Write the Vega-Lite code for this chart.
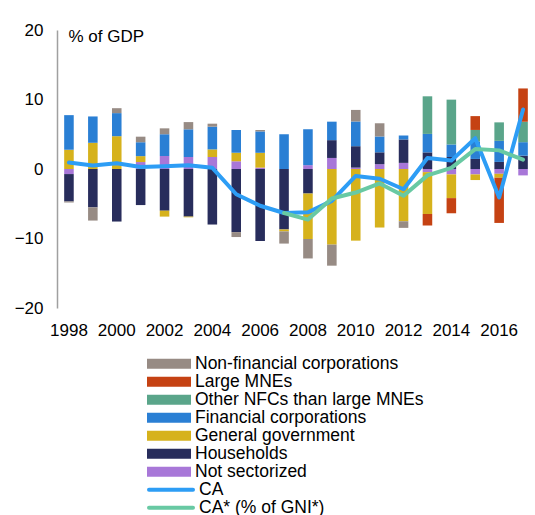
{
  "$schema": "https://vega.github.io/schema/vega-lite/v6.json",
  "width": 478,
  "height": 278,
  "autosize": {"type": "none"},
  "padding": {"left": 57, "top": 30, "right": 0, "bottom": 207},
  "config": {
    "font": "Liberation Sans",
    "view": {"stroke": null},
    "axis": {"labelColor": "#000000", "titleColor": "#000000", "labelFont": "Liberation Sans", "titleFont": "Liberation Sans"},
    "legend": {"labelFont": "Liberation Sans", "labelColor": "#000000"}
  },
  "datasets": {
    "bars": [
      {"year": 1998, "sector": "Not sectorized", "value": -0.73},
      {"year": 1998, "sector": "Households", "value": -3.94},
      {"year": 1998, "sector": "General government", "value": 2.77},
      {"year": 1998, "sector": "Financial corporations", "value": 4.98},
      {"year": 1998, "sector": "Non-financial corporations", "value": -0.15},
      {"year": 1999, "sector": "General government", "value": 3.77},
      {"year": 1999, "sector": "Financial corporations", "value": 3.79},
      {"year": 1999, "sector": "Households", "value": -5.52},
      {"year": 1999, "sector": "Non-financial corporations", "value": -1.9},
      {"year": 2000, "sector": "General government", "value": 4.72},
      {"year": 2000, "sector": "Financial corporations", "value": 3.32},
      {"year": 2000, "sector": "Non-financial corporations", "value": 0.71},
      {"year": 2000, "sector": "Households", "value": -7.56},
      {"year": 2001, "sector": "Not sectorized", "value": 1.0},
      {"year": 2001, "sector": "General government", "value": 0.85},
      {"year": 2001, "sector": "Financial corporations", "value": 2.0},
      {"year": 2001, "sector": "Non-financial corporations", "value": 0.8},
      {"year": 2001, "sector": "Households", "value": -5.19},
      {"year": 2002, "sector": "Not sectorized", "value": 1.87},
      {"year": 2002, "sector": "Financial corporations", "value": 3.13},
      {"year": 2002, "sector": "Non-financial corporations", "value": 0.85},
      {"year": 2002, "sector": "Households", "value": -6.0},
      {"year": 2002, "sector": "General government", "value": -0.85},
      {"year": 2003, "sector": "Not sectorized", "value": 1.73},
      {"year": 2003, "sector": "Financial corporations", "value": 3.98},
      {"year": 2003, "sector": "Non-financial corporations", "value": 1.04},
      {"year": 2003, "sector": "Households", "value": -6.85},
      {"year": 2003, "sector": "General government", "value": -0.1},
      {"year": 2004, "sector": "Not sectorized", "value": 1.73},
      {"year": 2004, "sector": "General government", "value": 1.09},
      {"year": 2004, "sector": "Financial corporations", "value": 3.27},
      {"year": 2004, "sector": "Non-financial corporations", "value": 0.43},
      {"year": 2004, "sector": "Households", "value": -7.99},
      {"year": 2005, "sector": "Not sectorized", "value": 1.11},
      {"year": 2005, "sector": "General government", "value": 1.23},
      {"year": 2005, "sector": "Financial corporations", "value": 3.27},
      {"year": 2005, "sector": "Households", "value": -9.08},
      {"year": 2005, "sector": "Non-financial corporations", "value": -0.71},
      {"year": 2006, "sector": "Not sectorized", "value": 0.2},
      {"year": 2006, "sector": "General government", "value": 2.13},
      {"year": 2006, "sector": "Financial corporations", "value": 3.08},
      {"year": 2006, "sector": "Non-financial corporations", "value": 0.2},
      {"year": 2006, "sector": "Households", "value": -10.36},
      {"year": 2007, "sector": "Financial corporations", "value": 5.0},
      {"year": 2007, "sector": "Households", "value": -8.7},
      {"year": 2007, "sector": "General government", "value": -0.28},
      {"year": 2007, "sector": "Non-financial corporations", "value": -1.75},
      {"year": 2008, "sector": "Not sectorized", "value": 0.55},
      {"year": 2008, "sector": "Financial corporations", "value": 5.17},
      {"year": 2008, "sector": "Households", "value": -3.53},
      {"year": 2008, "sector": "General government", "value": -6.54},
      {"year": 2008, "sector": "Non-financial corporations", "value": -2.8},
      {"year": 2009, "sector": "Not sectorized", "value": 1.59},
      {"year": 2009, "sector": "Households", "value": 2.56},
      {"year": 2009, "sector": "Financial corporations", "value": 2.66},
      {"year": 2009, "sector": "General government", "value": -10.88},
      {"year": 2009, "sector": "Non-financial corporations", "value": -3.03},
      {"year": 2010, "sector": "Not sectorized", "value": 0.2},
      {"year": 2010, "sector": "Households", "value": 3.08},
      {"year": 2010, "sector": "Financial corporations", "value": 3.56},
      {"year": 2010, "sector": "Non-financial corporations", "value": 1.66},
      {"year": 2010, "sector": "General government", "value": -10.31},
      {"year": 2011, "sector": "Not sectorized", "value": 0.69},
      {"year": 2011, "sector": "Households", "value": 1.71},
      {"year": 2011, "sector": "Financial corporations", "value": 2.28},
      {"year": 2011, "sector": "Non-financial corporations", "value": 1.9},
      {"year": 2011, "sector": "General government", "value": -8.42},
      {"year": 2012, "sector": "Not sectorized", "value": 0.88},
      {"year": 2012, "sector": "Households", "value": 3.37},
      {"year": 2012, "sector": "Financial corporations", "value": 0.57},
      {"year": 2012, "sector": "General government", "value": -7.52},
      {"year": 2012, "sector": "Non-financial corporations", "value": -0.95},
      {"year": 2013, "sector": "Households", "value": 2.39},
      {"year": 2013, "sector": "Financial corporations", "value": 2.66},
      {"year": 2013, "sector": "Other NFCs than large MNEs", "value": 5.41},
      {"year": 2013, "sector": "Not sectorized", "value": -0.45},
      {"year": 2013, "sector": "General government", "value": -6.02},
      {"year": 2013, "sector": "Large MNEs", "value": -1.66},
      {"year": 2014, "sector": "Households", "value": 1.73},
      {"year": 2014, "sector": "Financial corporations", "value": 1.8},
      {"year": 2014, "sector": "Other NFCs than large MNEs", "value": 6.45},
      {"year": 2014, "sector": "Not sectorized", "value": -0.78},
      {"year": 2014, "sector": "General government", "value": -3.41},
      {"year": 2014, "sector": "Large MNEs", "value": -2.18},
      {"year": 2015, "sector": "Households", "value": 1.45},
      {"year": 2015, "sector": "Financial corporations", "value": 2.51},
      {"year": 2015, "sector": "Other NFCs than large MNEs", "value": 1.66},
      {"year": 2015, "sector": "Large MNEs", "value": 1.99},
      {"year": 2015, "sector": "Not sectorized", "value": -0.78},
      {"year": 2015, "sector": "General government", "value": -0.81},
      {"year": 2016, "sector": "Households", "value": 1.02},
      {"year": 2016, "sector": "Financial corporations", "value": 3.03},
      {"year": 2016, "sector": "Other NFCs than large MNEs", "value": 2.66},
      {"year": 2016, "sector": "Not sectorized", "value": -0.69},
      {"year": 2016, "sector": "General government", "value": -0.57},
      {"year": 2016, "sector": "Large MNEs", "value": -6.5},
      {"year": 2017, "sector": "Households", "value": 1.92},
      {"year": 2017, "sector": "Financial corporations", "value": 1.94},
      {"year": 2017, "sector": "Other NFCs than large MNEs", "value": 2.94},
      {"year": 2017, "sector": "Large MNEs", "value": 4.79},
      {"year": 2017, "sector": "Not sectorized", "value": -0.92}
    ],
    "lines": [
      {"year": 1998, "series": "CA", "value": 0.92},
      {"year": 1999, "series": "CA", "value": 0.5},
      {"year": 2000, "series": "CA", "value": 0.83},
      {"year": 2001, "series": "CA", "value": 0.3},
      {"year": 2002, "series": "CA", "value": 0.4},
      {"year": 2003, "series": "CA", "value": 0.55},
      {"year": 2004, "series": "CA", "value": 0.17},
      {"year": 2005, "series": "CA", "value": -3.63},
      {"year": 2006, "series": "CA", "value": -5.29},
      {"year": 2007, "series": "CA", "value": -6.33},
      {"year": 2008, "series": "CA", "value": -6.24},
      {"year": 2009, "series": "CA", "value": -4.58},
      {"year": 2010, "series": "CA", "value": -1.0},
      {"year": 2011, "series": "CA", "value": -1.4},
      {"year": 2012, "series": "CA", "value": -2.92},
      {"year": 2013, "series": "CA", "value": 1.59},
      {"year": 2014, "series": "CA", "value": 1.21},
      {"year": 2015, "series": "CA", "value": 4.43},
      {"year": 2016, "series": "CA", "value": -4.1},
      {"year": 2017, "series": "CA", "value": 8.56},
      {"year": 2007, "series": "CA* (% of GNI*)", "value": -6.33},
      {"year": 2008, "series": "CA* (% of GNI*)", "value": -7.28},
      {"year": 2009, "series": "CA* (% of GNI*)", "value": -4.24},
      {"year": 2010, "series": "CA* (% of GNI*)", "value": -3.39},
      {"year": 2011, "series": "CA* (% of GNI*)", "value": -2.08},
      {"year": 2012, "series": "CA* (% of GNI*)", "value": -3.86},
      {"year": 2013, "series": "CA* (% of GNI*)", "value": -0.92},
      {"year": 2014, "series": "CA* (% of GNI*)", "value": 0.17},
      {"year": 2015, "series": "CA* (% of GNI*)", "value": 2.87},
      {"year": 2016, "series": "CA* (% of GNI*)", "value": 2.68},
      {"year": 2017, "series": "CA* (% of GNI*)", "value": 1.35}
    ]
  },
  "encoding": {
    "x": {
      "field": "year",
      "type": "ordinal",
      "scale": {"type": "band", "paddingInner": 0.6, "paddingOuter": 0.3},
      "axis": {
        "title": null,
        "domain": false,
        "ticks": false,
        "labelAngle": 0,
        "labelFontSize": 17,
        "labelPadding": 14,
        "labelExpr": "toNumber(datum.value) % 2 == 0 ? datum.label : ''"
      }
    }
  },
  "layer": [
    {
      "data": {"name": "bars"},
      "transform": [
        {"calculate": "indexof(['Not sectorized','Households','General government','Financial corporations','Other NFCs than large MNEs','Large MNEs','Non-financial corporations'], datum.sector)", "as": "stackorder"}
      ],
      "mark": {"type": "bar"},
      "encoding": {
        "y": {
          "field": "value",
          "type": "quantitative",
          "stack": "zero",
          "scale": {"domain": [-20, 20], "nice": false},
          "axis": {
            "values": [-20, -10, 0, 10, 20],
            "grid": false,
            "ticks": false,
            "domainColor": "#a0a0a0",
            "domainWidth": 1.5,
            "labelFontSize": 17,
            "labelPadding": 14,
            "title": "% of GDP",
            "titleAngle": 0,
            "titleAlign": "left",
            "titleBaseline": "alphabetic",
            "titleX": 11,
            "titleY": 11,
            "titleFontWeight": "normal",
            "titleFontSize": 17
          }
        },
        "color": {
          "field": "sector",
          "type": "nominal",
          "scale": {
            "domain": ["Non-financial corporations", "Large MNEs", "Other NFCs than large MNEs", "Financial corporations", "General government", "Households", "Not sectorized"],
            "range": ["#978b84", "#c54213", "#5aa58a", "#2a7fd4", "#d6b21c", "#282d5c", "#a877d8"]
          },
          "legend": {
            "title": null,
            "orient": "none",
            "legendX": 90,
            "legendY": 325,
            "symbolType": "M-1,-0.23H1V0.23H-1Z",
            "symbolSize": 1936,
            "symbolStrokeWidth": 0,
            "symbolOpacity": 1,
            "clipHeight": 17.4,
            "labelFontSize": 17.5,
            "labelOffset": 4,
            "labelLimit": 400,
            "rowPadding": -1,
            "padding": 0
          }
        },
        "order": {"field": "stackorder", "type": "quantitative", "sort": "ascending"}
      }
    },
    {
      "mark": {"type": "rule", "color": "#a6a6a6", "strokeWidth": 2},
      "encoding": {"y": {"datum": 0}}
    },
    {
      "data": {"name": "lines"},
      "mark": {"type": "line", "strokeWidth": 4, "strokeCap": "round", "strokeJoin": "round"},
      "encoding": {
        "y": {"field": "value", "type": "quantitative"},
        "stroke": {
          "field": "series",
          "type": "nominal",
          "scale": {"domain": ["CA", "CA* (% of GNI*)"], "range": ["#2d9df5", "#68c9a3"]},
          "legend": {
            "title": null,
            "orient": "none",
            "legendX": 90,
            "legendY": 451,
            "symbolType": "stroke",
            "symbolSize": 1936,
            "symbolStrokeWidth": 4,
            "clipHeight": 17.4,
            "labelFontSize": 17.5,
            "labelOffset": 4,
            "labelLimit": 400,
            "rowPadding": -1,
            "padding": 0,
            "encode": {"symbols": {"update": {"strokeCap": {"value": "round"}}}}
          }
        }
      }
    }
  ]
}
